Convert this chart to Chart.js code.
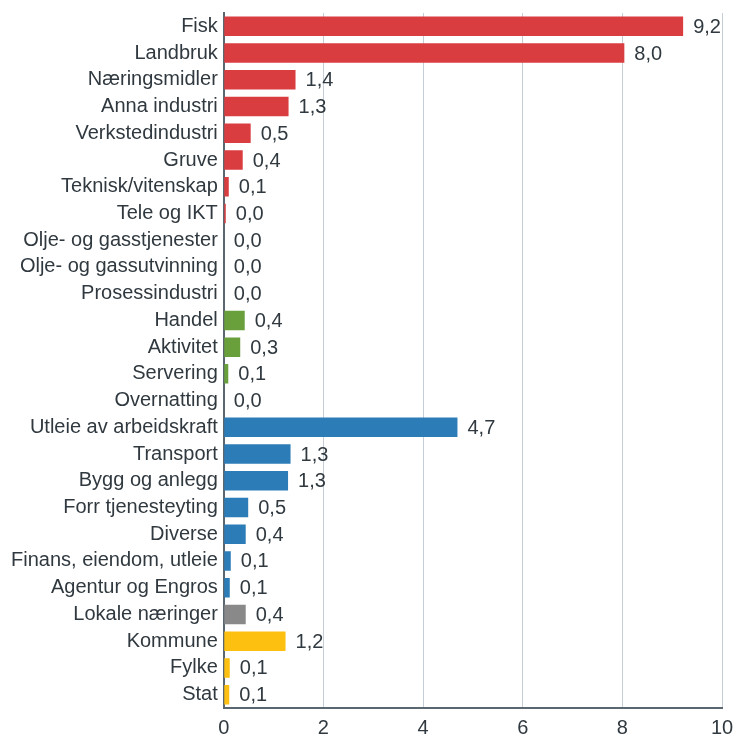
<!DOCTYPE html>
<html>
<head>
<meta charset="utf-8">
<script src="https://cdn.jsdelivr.net/npm/chart.js@4/dist/chart.umd.min.js"></script>
<style>
html,body{margin:0;padding:0;background:#fff;}
#wrap{width:735px;height:738px;}
</style>
</head>
<body>
<div id="wrap"><canvas id="c" width="735" height="738"></canvas></div>
<script>
const categories = ["Fisk","Landbruk","Næringsmidler","Anna industri","Verkstedindustri","Gruve","Teknisk/vitenskap","Tele og IKT","Olje- og gasstjenester","Olje- og gassutvinning","Prosessindustri","Handel","Aktivitet","Servering","Overnatting","Utleie av arbeidskraft","Transport","Bygg og anlegg","Forr tjenesteyting","Diverse","Finans, eiendom, utleie","Agentur og Engros","Lokale næringer","Kommune","Fylke","Stat"];
const values = [9.22,8.04,1.44,1.30,0.54,0.38,0.10,0.04,0.0,0.0,0.0,0.42,0.33,0.09,0.0,4.69,1.34,1.29,0.49,0.44,0.14,0.12,0.44,1.24,0.12,0.11];
const groups = ["industry","industry","industry","industry","industry","industry","industry","industry","industry","industry","industry","tourism","tourism","tourism","tourism","service","service","service","service","service","service","service","local","public","public","public"];
const groupColors = {industry:"#da3d40", tourism:"#69a03b", service:"#2b7cb7", local:"#898989", public:"#fdc010"};
const xTicks = [0,2,4,6,8,10];

const FONT = '"Liberation Sans", Arial, sans-serif';
const FSIZE = 20;
const TXT = '#30393f';
const fmt = v => v.toFixed(1).replace('.', ',');

const valueLabels = {
  id: 'valueLabels',
  afterDatasetsDraw(chart) {
    const ctx = chart.ctx;
    const meta = chart.getDatasetMeta(0);
    ctx.save();
    ctx.font = FSIZE + 'px ' + FONT;
    ctx.fillStyle = TXT;
    ctx.textAlign = 'left';
    ctx.textBaseline = 'middle';
    meta.data.forEach((bar, i) => {
      ctx.fillText(fmt(values[i]), bar.x + 10, bar.y + 1);
    });
    ctx.restore();
  }
};

new Chart(document.getElementById('c'), {
  type: 'bar',
  data: {
    labels: categories,
    datasets: [{
      data: values,
      backgroundColor: groups.map(g => groupColors[g]),
      borderWidth: 0,
      categoryPercentage: 1,
      barPercentage: 0.73
    }]
  },
  options: {
    indexAxis: 'y',
    responsive: false,
    animation: false,
    devicePixelRatio: 1,
    layout: {padding: {top: 13, right: 13, left: 5, bottom: 0}},
    plugins: {legend: {display: false}, tooltip: {enabled: false}},
    scales: {
      x: {
        min: 0, max: 10,
        afterBuildTicks: (s) => { s.ticks = xTicks.map(v => ({value: v})); },
        afterFit: (s) => { s.height = 30; s.paddingRight = 0; s.paddingLeft = 0; },
        grid: {color: '#c5ced6', lineWidth: 1, drawTicks: false},
        border: {color: '#5b6770', width: 2},
        ticks: {color: TXT, font: {family: FONT, size: FSIZE}, padding: 8}
      },
      y: {
        afterFit: (s) => { s.paddingTop = 0; s.paddingBottom = 0; },
        grid: {display: false, drawTicks: false},
        border: {color: '#5b6770', width: 2},
        ticks: {color: TXT, font: {family: FONT, size: FSIZE}, padding: 6, autoSkip: false}
      }
    }
  },
  plugins: [valueLabels]
});
</script>
</body>
</html>
